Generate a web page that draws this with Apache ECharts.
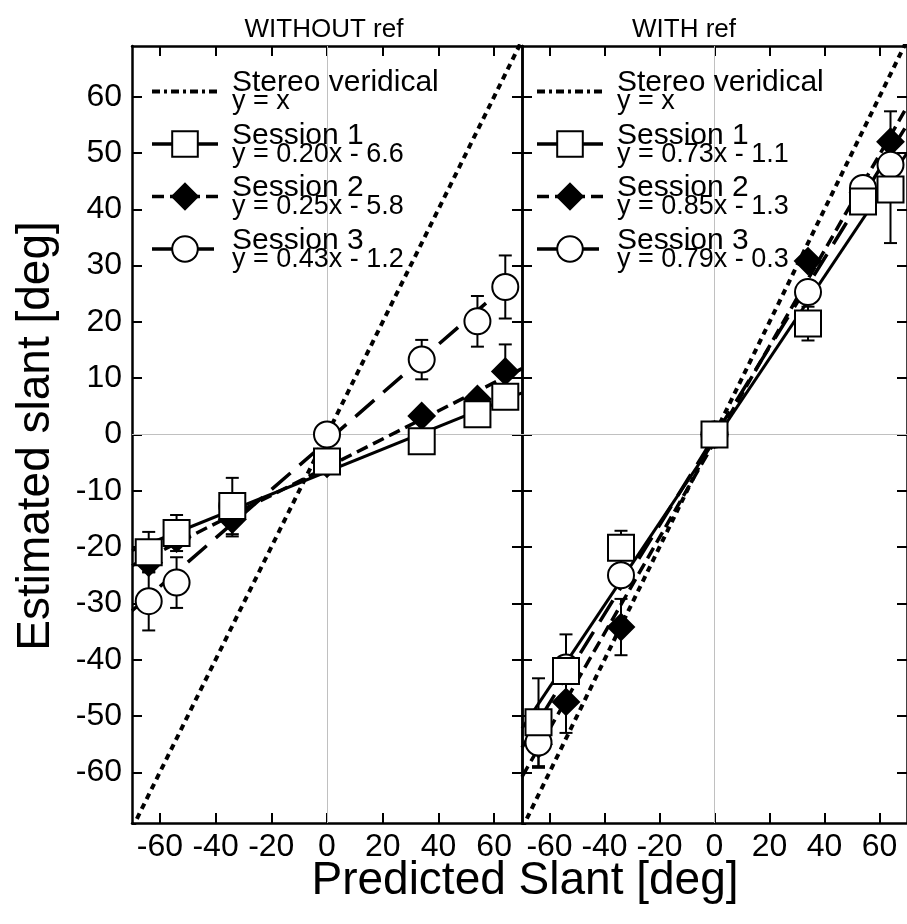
<!DOCTYPE html>
<html><head><meta charset="utf-8">
<script src="https://cdn.jsdelivr.net/npm/echarts@6/dist/echarts.min.js"></script>
<style>html,body{margin:0;padding:0;background:#fff}#c{width:907px;height:924px}</style>
</head><body><div id="c"></div>
<script>
// ---------- data ----------
const slants = [-64, -54, -34, 0, 34, 54, 64];
const xTicks = [-60, -40, -20, 0, 20, 40, 60];
const yTicks = [-60, -50, -40, -30, -20, -10, 0, 10, 20, 30, 40, 50, 60];
const panelTitles = ['WITHOUT ref', 'WITH ref'];
const legendNames = ['Stereo veridical', 'Session 1', 'Session 2', 'Session 3'];
const xTitle = 'Predicted Slant [deg]';
const yTitle = 'Estimated slant [deg]';

// WITHOUT ref panel
const woS1 = [-20.9, -17.5, -12.7, -4.8, -1.2, 3.6, 6.7];
const woS1Err = [3.6, 3.2, 0, 0, 0, 0, 0];
const woS2 = [-22.8, -18.5, -15.1, -5.2, 3.3, 6.3, 11.2];
const woS2Err = [0, 0, 3, 0, 0, 0, 4.8];
const woS3 = [-29.6, -26.3, -12.7, 0, 13.3, 20.1, 26.2];
const woS3Err = [5.2, 4.5, 5, 0, 3.5, 4.5, 5.6];
const woSlope = [0.20, 0.25, 0.43];
const woIntercept = [-6.6, -5.8, -1.2];

// WITH ref panel
const wS1 = [-51.1, -42.0, -20.1, 0, 19.7, 41.4, 43.5];
const wS1Err = [7.8, 6.5, 3, 0, 3, 0, 9.5];
const wS2 = [-55, -47.5, -34.2, 0, 30.8, 43, 52];
const wS2Err = [0, 5.5, 5, 0, 0, 0, 5.4];
const wS3 = [-54.7, -41.4, -25.0, 0, 25.3, 43.8, 47.9];
const wS3Err = [4.5, 0, 0, 0, 0, 0, 0];
const wSlope = [0.73, 0.85, 0.79];
const wIntercept = [-1.1, -1.3, -0.3];

const xRange = [-70, 70];
const yRange = [-69, 69];

// ---------- build ----------
const font = 'Liberation Sans';
const chart = echarts.init(document.getElementById('c'), null, {renderer: 'canvas'});

function xAx(grid, pos) {
  return {type: 'value', gridIndex: grid, position: pos, min: xRange[0], max: xRange[1],
    axisLine: {show: true, onZero: false, lineStyle: {color: '#000', width: 2.5}},
    axisTick: {show: true, inside: true, length: 10, lineStyle: {color: '#000', width: 2}, customValues: xTicks},
    axisLabel: {show: pos === 'bottom', customValues: xTicks, color: '#000', fontSize: 32, fontFamily: font, margin: 8},
    splitLine: {show: false}};
}
function yAx(grid, pos, labels) {
  return {type: 'value', gridIndex: grid, position: pos, min: yRange[0], max: yRange[1],
    axisLine: {show: true, onZero: false, lineStyle: {color: '#000', width: 2.5}},
    axisTick: {show: true, inside: true, length: 10, lineStyle: {color: '#000', width: 2}, customValues: yTicks},
    axisLabel: {show: labels, customValues: yTicks, color: '#000', fontSize: 32, fontFamily: font, margin: 10},
    splitLine: {show: false}};
}

const markerStyles = [
  {symbol: 'rect', itemStyle: {color: '#fff', borderColor: '#000', borderWidth: 2, opacity: 1}, z: 6},
  {symbol: 'diamond', itemStyle: {color: '#000', borderColor: '#000', borderWidth: 2, opacity: 1}, z: 4},
  {symbol: 'circle', itemStyle: {color: '#fff', borderColor: '#000', borderWidth: 2, opacity: 1}, z: 5}
];
const fitLineStyles = [
  {color: '#000', width: 3, type: 'solid'},
  {color: '#000', width: 3.5, type: [12, 6]},
  {color: '#000', width: 3.5, type: [25, 12]}
];

function errSeries(xi, yi, ys, errs) {
  return {
    type: 'custom', xAxisIndex: xi, yAxisIndex: yi, z: 3, silent: true,
    data: slants.map((x, i) => [x, ys[i], errs[i]]),
    encode: {x: 0, y: 1},
    renderItem(params, api) {
      const e = api.value(2); if (!e) return null;
      const x = api.value(0), y = api.value(1);
      const top = api.coord([x, y + e]), bot = api.coord([x, y - e]);
      const cw = 6.5;
      const st = {stroke: '#000', lineWidth: 2};
      return {type: 'group', children: [
        {type: 'line', shape: {x1: top[0], y1: top[1], x2: bot[0], y2: bot[1]}, style: st},
        {type: 'line', shape: {x1: top[0] - cw, y1: top[1], x2: top[0] + cw, y2: top[1]}, style: st},
        {type: 'line', shape: {x1: bot[0] - cw, y1: bot[1], x2: bot[0] + cw, y2: bot[1]}, style: st}
      ]};
    }
  };
}

function panelSeries(prefix, xi, yi, sessions, errs, slopes, ints) {
  const out = [];
  out.push({type: 'line', name: prefix + 'v', xAxisIndex: xi, yAxisIndex: yi, symbol: 'none', silent: true,
    data: [[xRange[0], xRange[0]], [xRange[1], xRange[1]]],
    lineStyle: {color: '#000', width: 4, type: [6, 5]}, z: 2,
    markLine: {silent: true, z: 1, symbol: 'none', label: {show: false},
      lineStyle: {color: '#c0c0c0', width: 1, type: 'solid'},
      data: [{xAxis: 0}, {yAxis: 0}]}});
  for (let k = 0; k < 3; k++) {
    out.push({type: 'line', name: prefix + (k + 1), xAxisIndex: xi, yAxisIndex: yi,
      symbol: markerStyles[k].symbol, showSymbol: false, silent: true, z: 2,
      itemStyle: markerStyles[k].itemStyle, lineStyle: fitLineStyles[k],
      data: xRange.map(x => [x, slopes[k] * x + ints[k]])});
    out.push(errSeries(xi, yi, sessions[k], errs[k]));
    out.push({type: 'scatter', name: prefix + 'pts' + (k + 1), xAxisIndex: xi, yAxisIndex: yi,
      symbol: markerStyles[k].symbol, symbolSize: 26, silent: true, z: markerStyles[k].z,
      itemStyle: markerStyles[k].itemStyle, emphasis: {disabled: true},
      data: slants.map((x, i) => [x, sessions[k][i]])});
  }
  return out;
}

function makeLegend(prefix, left, slopes, ints) {
  const eqs = ['y = x'].concat(slopes.map((s, i) => 'y = ' + s.toFixed(2) + 'x - ' + Math.abs(ints[i]).toFixed(1)));
  const names = [prefix + 'v', prefix + '1', prefix + '2', prefix + '3'];
  return {
    orient: 'vertical', left: left, top: 68, padding: 0, itemGap: 5, itemWidth: 66, itemHeight: 32,
    selectedMode: false,
    data: names.map((n, i) => i === 0
      ? {name: n, itemStyle: {opacity: 0}, lineStyle: {type: [8, 4, 3, 4], width: 4}}
      : {name: n}),
    formatter: name => { const i = names.indexOf(name); return '{a|' + legendNames[i] + '}\n{b|' + eqs[i] + '}'; },
    textStyle: {color: '#000', rich: {
      a: {fontSize: 30, lineHeight: 21, fontFamily: font, color: '#000', padding: [0, 0, 0, 9]},
      b: {fontSize: 27, lineHeight: 17, fontFamily: font, color: '#000', padding: [0, 0, 0, 9]}
    }},
    lineStyle: {width: 3.5},
    itemStyle: {borderColor: '#000', borderWidth: 2}
  };
}

const option = {
  animation: false,
  backgroundColor: '#fff',
  textStyle: {fontFamily: font},
  grid: [
    {left: 132, top: 46, width: 390, height: 777},
    {left: 522, top: 46, width: 390, height: 777}
  ],
  xAxis: [xAx(0, 'bottom'), xAx(0, 'top'), xAx(1, 'bottom'), xAx(1, 'top')],
  yAxis: [yAx(0, 'left', true), yAx(0, 'right', false), yAx(1, 'left', false), yAx(1, 'right', false)],
  legend: [makeLegend('L', 150, woSlope, woIntercept), makeLegend('R', 535, wSlope, wIntercept)],
  graphic: [
    {type: 'text', x: 324, y: 30, style: {text: panelTitles[0], font: '26px ' + font, fill: '#000', align: 'center', verticalAlign: 'middle'}},
    {type: 'text', x: 684, y: 30, style: {text: panelTitles[1], font: '26px ' + font, fill: '#000', align: 'center', verticalAlign: 'middle'}},
    {type: 'text', x: 525, y: 881, style: {text: xTitle, font: '46px ' + font, fill: '#000', align: 'center', verticalAlign: 'middle'}},
    {type: 'text', x: 36, y: 436, rotation: Math.PI / 2, style: {text: yTitle, font: '46px ' + font, fill: '#000', align: 'center', verticalAlign: 'middle'}}
  ],
  series: [].concat(
    panelSeries('L', 0, 0, [woS1, woS2, woS3], [woS1Err, woS2Err, woS3Err], woSlope, woIntercept),
    panelSeries('R', 2, 2, [wS1, wS2, wS3], [wS1Err, wS2Err, wS3Err], wSlope, wIntercept)
  )
};
chart.setOption(option);
</script>
</body></html>
